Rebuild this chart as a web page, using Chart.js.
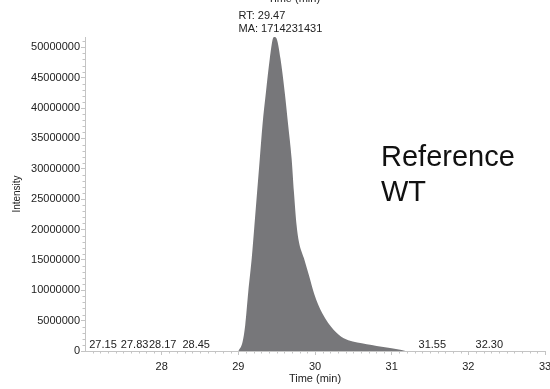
<!DOCTYPE html>
<html>
<head>
<meta charset="utf-8">
<script src="https://cdn.jsdelivr.net/npm/chart.js@4.4.0/dist/chart.umd.min.js"></script>
<style>
  html, body { margin: 0; padding: 0; background: #fff; }
  #wrap { width: 550px; height: 389px; }
</style>
</head>
<body>
<div id="wrap"><canvas id="chrom"></canvas></div>
<script>
// ---- chromatogram trace (time in min, intensity in counts) ----
const timeMin = [29.00, 29.055, 29.09, 29.13, 29.175, 29.21, 29.245, 29.28, 29.315, 29.36, 29.41, 29.45, 29.47,
                 29.50, 29.55, 29.605, 29.65, 29.695, 29.725, 29.76, 29.79, 29.855, 29.92, 29.99, 30.095,
                 30.245, 30.375, 30.61, 30.87, 31.13, 31.18];
const intensity = [0, 1500000, 4300000, 9800000, 15300000, 20700000, 26200000, 31700000, 37200000, 42600000,
                   48100000, 51400000, 51700000, 51400000, 48100000, 42600000, 37200000, 31700000, 26200000,
                   20700000, 18000000, 15300000, 12500000, 9400000, 6200000, 3450000, 2100000, 1270000,
                   700000, 160000, 0];

const xTicks = [28, 29, 30, 31, 32, 33];
const yTicks = [0, 5000000, 10000000, 15000000, 20000000, 25000000, 30000000, 35000000, 40000000, 45000000, 50000000];

// small peaks labelled along the baseline
const peakTimes = [27.15, 27.83, 28.17, 28.45, 31.55, 32.30];
const apexRT = 29.47;
const apexArea = 1714231431;

const _txt   = '#222';
const _axis  = '#c4c4c4';
const _fill  = '#77777a';
const _font  = '"Liberation Sans", Arial, sans-serif';

Chart.defaults.font.family = _font;

// label nudges so the crowded baseline labels don't overlap
const labelShift = [6.5, -14, -12, 0, -1.5, -2];

const overlay = {
  id: 'overlay',
  afterDraw(chart) {
    const { ctx, chartArea: ca, scales: { x, y } } = chart;
    ctx.save();

    // minor ticks
    ctx.strokeStyle = _axis;
    ctx.lineWidth = 1;
    ctx.beginPath();
    for (let i = 270; i <= 330; i++) {
      if (i % 10 === 0) continue;
      const px = Math.round(x.getPixelForValue(i / 10)) + 0.5;
      ctx.moveTo(px, ca.bottom);
      ctx.lineTo(px, ca.bottom + 2.5);
    }
    for (let v = 1000000; v <= y.max; v += 1000000) {
      if (v % 5000000 === 0) continue;
      const py = Math.round(y.getPixelForValue(v)) + 0.5;
      ctx.moveTo(ca.left, py);
      ctx.lineTo(ca.left - 2.5, py);
    }
    ctx.stroke();

    // baseline peak labels
    ctx.fillStyle = _txt;
    ctx.font = '11px ' + _font;
    ctx.textAlign = 'center';
    ctx.textBaseline = 'middle';
    peakTimes.forEach((t, i) => {
      ctx.fillText(t.toFixed(2), x.getPixelForValue(t) + labelShift[i], ca.bottom - 6);
    });

    // apex annotation
    const ax = x.getPixelForValue(apexRT);
    const l1 = 'RT: ' + apexRT.toFixed(2);
    const l2 = 'MA: ' + apexArea;
    const w = Math.max(ctx.measureText(l1).width, ctx.measureText(l2).width);
    ctx.textAlign = 'left';
    ctx.fillText(l1, ax - w / 2 + 6, 16);
    ctx.fillText(l2, ax - w / 2 + 6, 29);

    // clipped heading at the very top
    ctx.textAlign = 'center';
    ctx.textBaseline = 'alphabetic';
    ctx.fillText('Time (min)', 294, 2);

    // sample name
    ctx.fillStyle = '#111';
    ctx.font = '29px ' + _font;
    ctx.textAlign = 'left';
    ctx.fillText('Reference', 381, 166);
    ctx.fillText('WT', 381, 201);

    ctx.restore();
  }
};

new Chart(document.getElementById('chrom'), {
  type: 'line',
  data: {
    datasets: [{
      data: timeMin.map((t, i) => ({ x: t, y: intensity[i] })),
      backgroundColor: _fill,
      borderColor: 'rgba(0,0,0,0)',
      borderWidth: 1,
      pointRadius: 0,
      fill: 'origin',
      cubicInterpolationMode: 'monotone'
    }]
  },
  options: {
    responsive: true,
    maintainAspectRatio: false,
    animation: false,
    layout: { padding: { top: 37, right: 5, left: 0, bottom: 0 } },
    plugins: { legend: { display: false }, tooltip: { enabled: false } },
    scales: {
      x: {
        type: 'linear',
        min: 27,
        max: 33,
        afterBuildTicks: s => { s.ticks = xTicks.map(v => ({ value: v })); },
        afterFit: s => { s.height = 38; s.paddingRight = 0; s.paddingLeft = 0; },
        grid: { drawOnChartArea: false, tickLength: 4, color: _axis },
        border: { color: _axis },
        ticks: { color: _txt, font: { size: 11 }, padding: 5, maxRotation: 0, autoSkip: false },
        title: { display: true, text: 'Time (min)', color: _txt, font: { size: 11 }, padding: { top: 0, bottom: 3 } }
      },
      y: {
        min: 0,
        max: Math.max(...intensity),
        afterBuildTicks: s => { s.ticks = yTicks.map(v => ({ value: v })); },
        afterFit: s => { s.width = 85; s.paddingTop = 0; s.paddingBottom = 0; },
        grid: { drawOnChartArea: false, tickLength: 4, color: _axis },
        border: { color: _axis },
        ticks: { color: _txt, font: { size: 11 }, padding: 1, callback: v => String(v) },
        title: { display: true, text: 'Intensity', color: _txt, font: { size: 10 }, padding: { top: 11, bottom: 0 } }
      }
    }
  },
  plugins: [overlay]
});
</script>
</body>
</html>
